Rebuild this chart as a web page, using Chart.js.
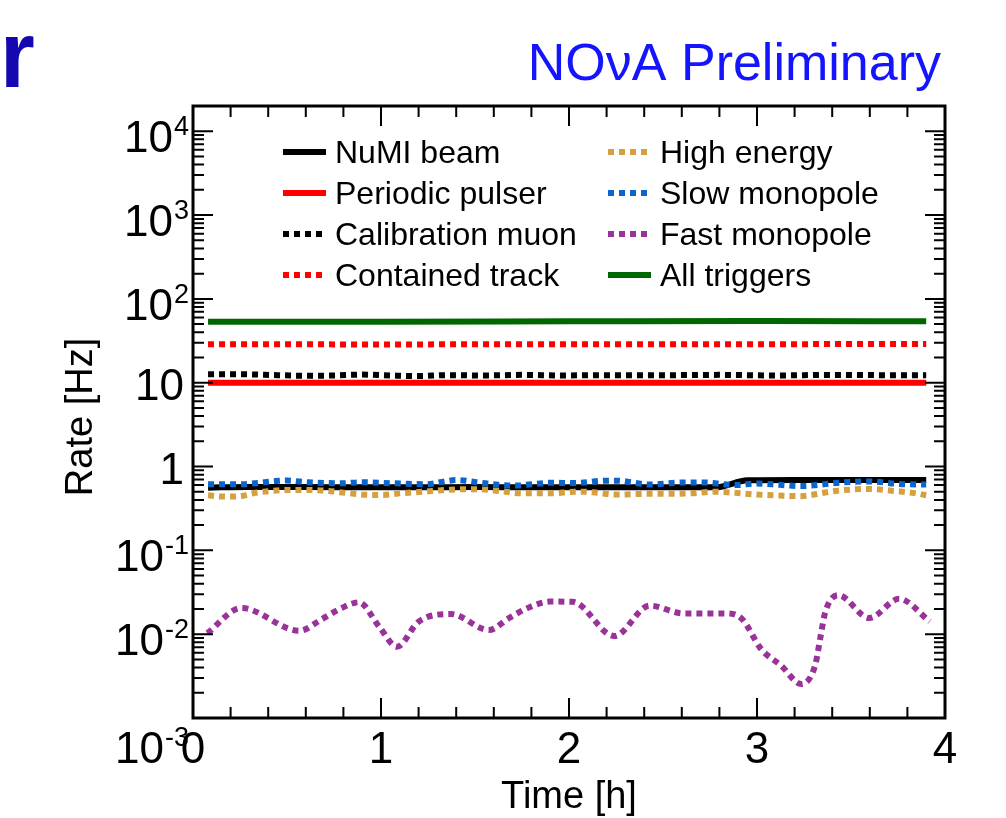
<!DOCTYPE html>
<html>
<head>
<meta charset="utf-8">
<script src="https://cdn.jsdelivr.net/npm/chart.js@4.4.1/dist/chart.umd.min.js"></script>
<style>
html,body{margin:0;padding:0;background:#fff;}
#wrap{width:1006px;height:818px;position:relative;}
</style>
</head>
<body>
<div id="wrap"><canvas id="c" width="1006" height="818"></canvas></div>
<script>
// ---------------- DATA ----------------
const seriesNames = ['NuMI beam','Periodic pulser','Calibration muon','Contained track',
                     'High energy','Slow monopole','Fast monopole','All triggers'];

const tNumi = [0.08,0.3,0.6,0.9,1.2,1.5,1.8,2.1,2.4,2.78,2.95,3.2,3.5,3.9];
const vNumi = [0.56,0.57,0.57,0.565,0.565,0.57,0.565,0.565,0.565,0.565,0.685,0.69,0.69,0.69];

const tPulser = [0.08,1.0,2.0,3.0,3.9];
const vPulser = [10,10,10,10,10];

const tCalib = [0.08,0.25,0.45,0.6,0.75,0.9,1.05,1.2,1.35,1.55,1.75,1.95,2.2,2.5,2.8,3.1,3.4,3.7,3.9];
const vCalib = [12.6,12.6,12.3,12.1,12.2,12.5,12.2,12.0,12.3,12.2,12.4,12.2,12.3,12.3,12.4,12.2,12.4,12.3,12.3];

const tContained = [0.08,0.5,1.0,1.5,2.0,2.5,3.0,3.5,3.9];
const vContained = [28.8,28.8,28.5,28.8,28.7,28.8,28.8,28.9,28.9];

const tHighE = [0.08,0.15,0.21,0.26,0.32,0.38,0.50,0.61,0.72,0.83,0.95,1.0,1.11,1.23,1.345,1.46,1.51,1.63,1.745,1.91,2.03,2.08,2.14,2.25,2.42,2.55,2.66,2.77,2.885,3.0,3.12,3.235,3.29,3.34,3.43,3.60,3.715,3.83,3.90];
const vHighE = [0.455,0.438,0.438,0.445,0.48,0.502,0.526,0.526,0.511,0.48,0.458,0.458,0.48,0.502,0.526,0.536,0.536,0.511,0.48,0.48,0.50,0.50,0.49,0.463,0.472,0.472,0.48,0.50,0.485,0.463,0.45,0.443,0.458,0.48,0.515,0.54,0.515,0.485,0.455];

const tSlow = [0.08,0.26,0.33,0.44,0.50,0.61,0.80,0.89,1.06,1.24,1.345,1.40,1.51,1.63,1.72,1.80,1.91,2.03,2.2,2.25,2.43,2.60,2.715,2.885,3.00,3.12,3.235,3.45,3.6,3.75,3.90];
const vSlow = [0.615,0.615,0.632,0.67,0.68,0.649,0.632,0.649,0.632,0.615,0.668,0.69,0.649,0.603,0.592,0.615,0.64,0.635,0.678,0.678,0.61,0.645,0.645,0.60,0.627,0.605,0.585,0.645,0.665,0.62,0.61];

const tFast = [0.076,0.257,0.565,0.687,0.79,0.883,0.99,1.085,1.20,1.372,1.574,1.68,1.79,1.9,2.02,2.241,2.429,2.61,2.84,2.92,3.023,3.129,3.235,3.31,3.337,3.363,3.432,3.597,3.756,3.919];
const vFast = [0.0103,0.0205,0.011,0.0152,0.0205,0.024,0.0123,0.0071,0.0141,0.0174,0.0112,0.0155,0.021,0.0245,0.0243,0.0095,0.0219,0.0177,0.0177,0.0152,0.0066,0.0042,0.00254,0.0043,0.0091,0.0183,0.0292,0.0156,0.0264,0.0142];

const tAll = [0.08,1.0,2.0,3.0,3.9];
const vAll = [53.5,53.5,54,54.5,54];

const xTickValues = [0,1,2,3,4];
const xTickLabels = ['0','1','2','3','4'];
const yTickValues = [1e-3,1e-2,1e-1,1,10,1e2,1e3,1e4];
const yTickBase   = ['10','10','10','1','10','10','10','10'];
const yTickExp    = ['-3','-2','-1','','','2','3','4'];

const xTitle = 'Time [h]';
const yTitle = 'Rate [Hz]';
const headerText = 'NOνA Preliminary';

// ---------------- STYLE ----------------
const colors = ['#000000','#ff0000','#000000','#ff0000','#d4a040','#0a66cc','#993399','#006600'];
const dotted = [false,false,true,true,true,true,true,false];
const FONT = '"Liberation Sans", Arial, Helvetica, sans-serif';
const DOT = [6,5];

const tArr = [tNumi,tPulser,tCalib,tContained,tHighE,tSlow,tFast,tAll];
const vArr = [vNumi,vPulser,vCalib,vContained,vHighE,vSlow,vFast,vAll];

const datasets = seriesNames.map((name,i)=>({
  label: name,
  data: tArr[i].map((t,k)=>({x:t,y:vArr[i][k]})),
  borderColor: colors[i],
  backgroundColor: colors[i],
  borderWidth: 6,
  borderDash: dotted[i] ? DOT : [],
  borderCapStyle: 'butt',
  pointRadius: 0,
  fill: false,
  cubicInterpolationMode: 'monotone',
  order: seriesNames.length - i
}));

const rootStyle = {
  id: 'rootStyle',
  afterDraw(chart){
    const ctx = chart.ctx;
    const xs = chart.scales.x, ys = chart.scales.y;
    const a = chart.chartArea;
    ctx.save();
    // ticks
    ctx.strokeStyle = '#000';
    ctx.lineWidth = 2;
    ctx.setLineDash([]);
    ctx.beginPath();
    for (let k=0;k<=20;k++){
      const v = k*0.2;
      const px = xs.getPixelForValue(v);
      const len = (k%5===0) ? 20 : 11;
      ctx.moveTo(px,a.bottom); ctx.lineTo(px,a.bottom-len);
      ctx.moveTo(px,a.top); ctx.lineTo(px,a.top+len);
    }
    for (let e=-3;e<=4;e++){
      for (let m=1;m<=9;m++){
        const v = m*Math.pow(10,e);
        if (v>ys.max*1.0001) break;
        const py = ys.getPixelForValue(v);
        const len = (m===1) ? 20 : 11;
        ctx.moveTo(a.left,py); ctx.lineTo(a.left+len,py);
        ctx.moveTo(a.right,py); ctx.lineTo(a.right-len,py);
      }
    }
    ctx.stroke();
    // frame
    ctx.lineWidth = 3;
    ctx.strokeRect(a.left,a.top,a.right-a.left,a.bottom-a.top);

    // x tick labels
    ctx.fillStyle = '#000';
    ctx.font = '44px '+FONT;
    ctx.textAlign = 'center';
    ctx.textBaseline = 'alphabetic';
    xTickValues.forEach((v,i)=>{
      ctx.fillText(xTickLabels[i], xs.getPixelForValue(v), 763);
    });
    // y tick labels
    yTickValues.forEach((v,i)=>{
      const py = ys.getPixelForValue(v);
      const base = yTickBase[i], ex = yTickExp[i];
      const rightEdge = ex ? 189 : 184;
      ctx.font = '44px '+FONT;
      const wb = ctx.measureText(base).width;
      ctx.font = '27px '+FONT;
      const we = ex ? ctx.measureText(ex).width + 1 : 0;
      let baseY;
      if (!ex) baseY = py + 17;
      else if (i===0) baseY = 763;
      else baseY = py + 21;
      ctx.textAlign = 'left';
      ctx.font = '44px '+FONT;
      ctx.fillText(base, rightEdge - we - wb, baseY);
      if (ex){
        ctx.font = '27px '+FONT;
        ctx.fillText(ex, rightEdge - we + 1, baseY - 17);
      }
    });
    // axis titles
    ctx.font = '38px '+FONT;
    ctx.textAlign = 'center';
    ctx.fillText(xTitle, (a.left+a.right)/2, 808);
    ctx.save();
    ctx.translate(92, 417);
    ctx.rotate(-Math.PI/2);
    ctx.fillText(yTitle, 0, 0);
    ctx.restore();

    // header
    ctx.fillStyle = '#1414ff';
    ctx.font = '52px '+FONT;
    ctx.textAlign = 'right';
    ctx.fillText(headerText, 941, 80);
    // cropped slide-title letter
    ctx.save();
    ctx.fillStyle = '#1409b0';
    ctx.font = 'bold 94px '+FONT;
    ctx.textAlign = 'left';
    ctx.scale(0.95,1);
    ctx.fillText('r', 0, 87);
    ctx.restore();

    // legend
    const cols = [{x0:283,x1:326,tx:335},{x0:608,x1:651,tx:660}];
    const rows = [152,193,234,275];
    seriesNames.forEach((name,i)=>{
      const c = cols[Math.floor(i/4)], ry = rows[i%4];
      ctx.strokeStyle = colors[i];
      ctx.lineWidth = 6;
      ctx.lineCap = 'butt';
      ctx.setLineDash(dotted[i] ? DOT : []);
      ctx.beginPath(); ctx.moveTo(c.x0,ry); ctx.lineTo(c.x1,ry); ctx.stroke();
      ctx.setLineDash([]);
      ctx.fillStyle = '#000';
      ctx.font = '32px '+FONT;
      ctx.textAlign = 'left';
      ctx.fillText(name, c.tx, ry + 11);
    });
    ctx.restore();
  }
};

new Chart(document.getElementById('c'), {
  type: 'line',
  data: { datasets },
  options: {
    responsive: false,
    animation: false,
    devicePixelRatio: 1,
    layout: { padding: { left: 193, top: 106, right: 61, bottom: 100 } },
    plugins: { legend: { display:false }, tooltip: { enabled:false }, title:{display:false} },
    scales: {
      x: { type:'linear', min:0, max:4, display:false },
      y: { type:'logarithmic', min:1e-3, max:2e4, display:false }
    }
  },
  plugins: [rootStyle]
});
</script>
</body>
</html>
